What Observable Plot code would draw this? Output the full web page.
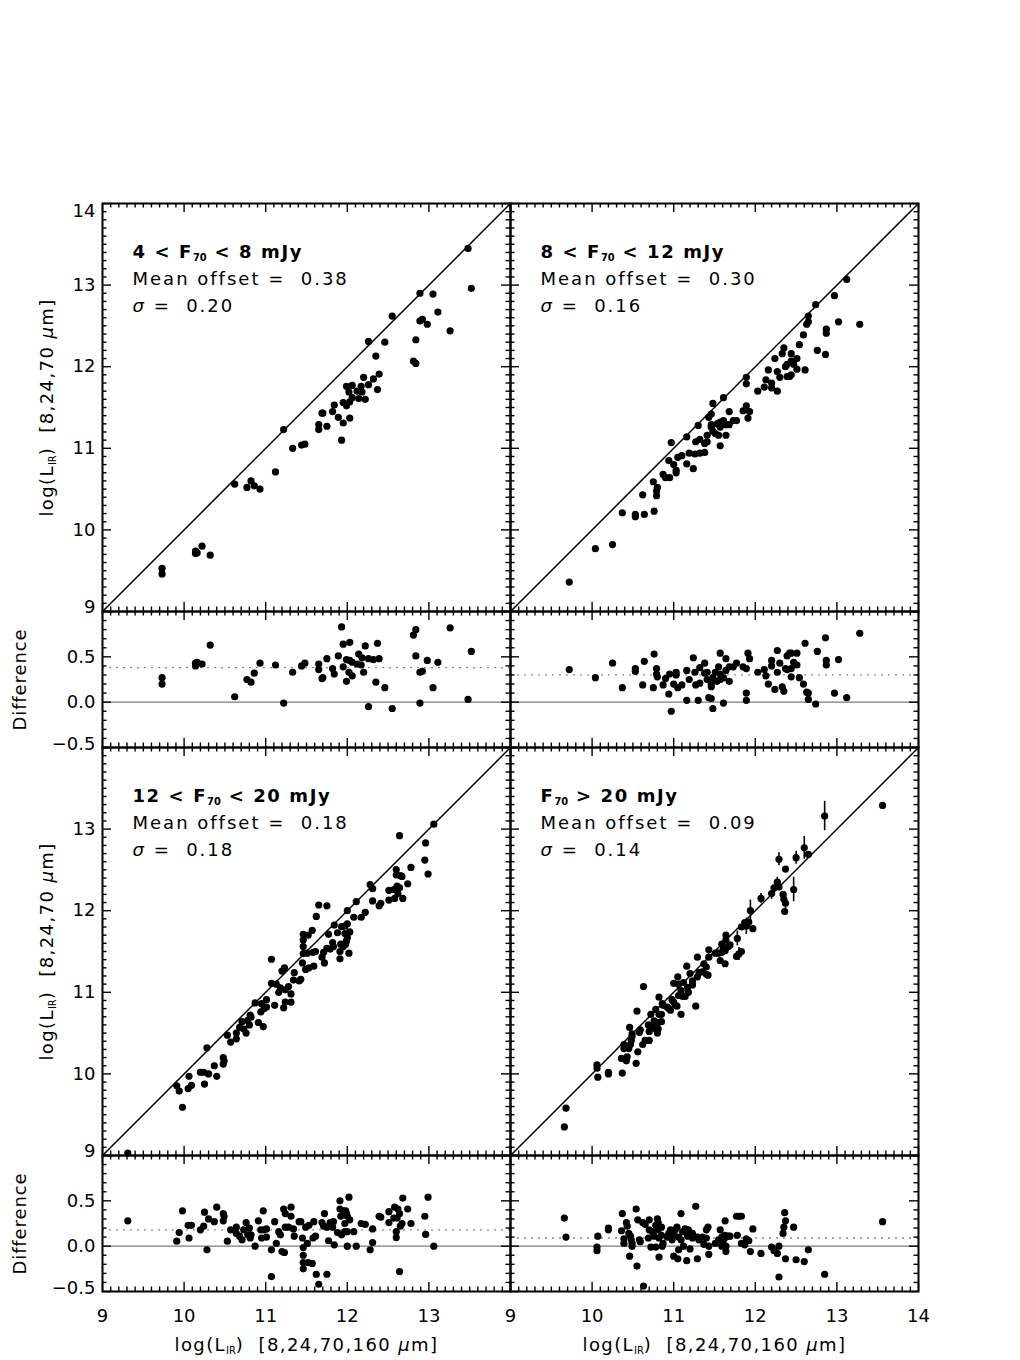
<!DOCTYPE html>
<html><head><meta charset="utf-8">
<script src="https://cdn.jsdelivr.net/npm/d3@7"></script>
<script src="https://cdn.jsdelivr.net/npm/@observablehq/plot@0.6"></script>
<style>
body{margin:0;background:#fff}
#chart{position:relative;width:1020px;height:1360px;background:#fff;overflow:hidden}
#chart > div{position:absolute}
#chart svg text{white-space:pre}
</style></head><body><div id="chart"></div>
<script>
// ---------------- data ----------------
const titles = ["4 < F_{70} < 8 mJy", "8 < F_{70} < 12 mJy", "12 < F_{70} < 20 mJy", "F_{70} > 20 mJy"];
const meanOffsets = [0.38, 0.30, 0.18, 0.09];
const sigmas = [0.20, 0.16, 0.18, 0.14];

// log(L_IR)[8,24,70,160] and difference (160-based minus 70-based)
const xA = [9.73,9.73,10.14,10.14,10.16,10.22,10.32,10.62,10.77,10.82,10.86,10.93,11.12,11.22,11.33,11.44,11.48,11.65,11.65,11.69,11.70,11.75,11.82,11.84,11.89,11.93,11.95,11.95,11.99,11.99,12.02,12.03,12.03,12.06,12.06,12.12,12.14,12.17,12.18,12.20,12.22,12.26,12.26,12.32,12.35,12.37,12.39,12.46,12.55,12.81,12.84,12.84,12.89,12.89,12.92,12.98,13.05,13.11,13.26,13.48,13.52];
const dA = [0.27,0.20,0.43,0.40,0.44,0.42,0.63,0.06,0.25,0.22,0.32,0.43,0.41,-0.01,0.33,0.40,0.43,0.42,0.36,0.26,0.27,0.48,0.37,0.31,0.51,0.83,0.64,0.39,0.47,0.23,0.33,0.66,0.46,0.29,0.44,0.42,0.53,0.41,0.49,0.33,0.62,0.48,-0.05,0.47,0.22,0.65,0.48,0.16,-0.07,0.74,0.80,0.51,0.33,-0.01,0.34,0.46,0.16,0.44,0.82,0.03,0.56];

const xB = [9.72,10.04,10.25,10.37,10.53,10.53,10.62,10.64,10.75,10.76,10.79,10.79,10.80,10.87,10.90,10.94,10.95,10.97,11.00,11.03,11.03,11.05,11.10,11.16,11.16,11.19,11.24,11.26,11.27,11.32,11.32,11.30,11.38,11.38,11.41,11.41,11.43,11.46,11.46,11.46,11.48,11.48,11.51,11.53,11.55,11.57,11.57,11.57,11.61,11.61,11.64,11.64,11.68,11.68,11.73,11.77,11.85,11.89,11.89,11.89,11.91,11.93,12.03,12.11,12.13,12.16,12.20,12.20,12.24,12.27,12.27,12.30,12.33,12.35,12.37,12.39,12.39,12.42,12.44,12.44,12.44,12.47,12.51,12.51,12.54,12.59,12.61,12.63,12.65,12.65,12.74,12.76,12.86,12.87,12.87,12.97,13.02,13.12,13.28];
const dB = [0.36,0.27,0.43,0.16,0.37,0.34,0.19,0.45,0.16,0.53,0.37,0.31,0.28,0.19,0.26,0.09,0.31,-0.10,0.20,0.33,0.30,0.16,0.19,0.35,0.02,0.25,0.49,0.33,0.19,0.21,0.38,0.02,0.43,0.32,0.25,0.33,0.05,0.04,0.20,0.17,-0.07,0.27,0.33,0.23,0.39,0.54,0.31,0.25,-0.01,0.27,0.48,0.35,0.23,0.39,0.39,0.43,0.39,0.10,0.02,0.37,0.54,0.48,0.33,0.36,0.29,0.20,0.46,0.40,0.14,0.57,0.33,0.43,0.17,0.12,0.37,0.51,0.36,0.54,0.28,0.37,0.54,0.44,0.41,0.54,0.27,0.20,0.65,0.11,0.10,0.03,-0.02,0.56,0.71,0.46,0.41,0.10,0.47,0.05,0.76];

const xC = [9.31,9.91,9.94,9.98,10.06,10.05,10.09,10.20,10.24,10.25,10.28,10.30,10.37,10.40,10.48,10.48,10.49,10.53,10.57,10.64,10.64,10.68,10.71,10.73,10.76,10.78,10.80,10.81,10.82,10.87,10.91,10.94,10.95,10.97,10.98,11.01,11.01,11.07,11.07,11.11,11.13,11.16,11.18,11.20,11.23,11.22,11.24,11.24,11.28,11.31,11.31,11.34,11.35,11.41,11.43,11.45,11.46,11.46,11.46,11.46,11.49,11.51,11.52,11.53,
  11.57,11.59,11.61,11.58,11.62,11.75,11.65,11.69,11.72,11.71,11.75,11.79,11.82,11.83,11.77,11.84,11.91,11.91,11.92,11.95,11.98,11.99,12.00,12.03,12.02,11.97,11.88,11.93,11.97,12.00,12.08,12.00,12.11,12.17,12.22,12.31,12.31,12.28,12.39,12.41,12.51,12.51,12.58,12.57,12.61,12.62,12.64,12.67,12.65,12.60,12.60,12.68,12.74,12.78,12.64,12.95,12.96,12.99,13.06];
const dC = [0.28,0.055,0.15,0.39,0.09,0.23,0.23,0.18,0.22,0.375,-0.04,0.30,0.27,0.43,0.36,0.28,0.33,0.055,0.18,0.21,0.14,0.11,0.07,0.18,0.26,0.125,0.20,0.09,0.125,0.0,0.28,0.18,0.09,0.39,0.18,0.19,0.10,-0.04,-0.335,0.27,0.03,0.16,0.125,-0.06,-0.07,0.41,0.36,0.21,0.21,0.43,0.33,0.19,0.11,0.27,0.27,0.09,-0.015,-0.10,-0.18,-0.25,0.21,0.03,-0.18,0.23,
  -0.19,0.27,0.11,0.09,-0.31,-0.31,-0.42,0.26,0.36,0.22,0.21,0.26,0.21,0.27,0.06,0.015,0.50,0.41,0.33,0.39,0.39,0.36,0.33,0.29,0.54,0.25,0.15,0.125,0.16,0.16,0.16,0.0,0.0,0.25,0.24,0.19,0.04,-0.04,0.33,0.32,0.38,0.26,0.43,0.31,0.31,0.41,0.36,0.25,0.22,0.16,0.095,0.53,0.41,0.25,-0.28,0.33,0.13,0.54,0.0];

const xD = [9.66,9.68,10.07,10.06,10.06,10.20,10.20,10.36,10.37,10.39,10.39,10.42,10.43,10.46,10.45,10.47,10.48,10.49,10.49,10.54,10.55,10.56,10.58,10.59,10.62,10.63,10.65,10.70,10.70,10.69,10.72,10.74,10.76,10.78,10.78,10.80,10.81,10.81,10.82,10.82,10.85,10.85,10.86,10.87,10.92,10.94,10.96,10.98,11.00,11.00,11.02,11.04,11.05,11.06,11.06,11.09,11.09,11.11,11.12,11.14,11.16,11.17,11.18,11.20,11.23,11.23,11.27,11.29,11.29,11.31,11.35,11.37,11.40,11.40,11.43,11.43,11.42,
  11.51,11.55,11.57,11.59,11.59,11.61,11.63,11.63,11.64,11.64,11.64,11.67,11.69,11.78,11.77,11.80,11.83,11.83,11.87,11.89,11.92,11.94,11.97,12.07,12.20,12.23,12.27,12.29,12.29,12.36,12.37,12.35,12.34,12.37,12.47,12.50,12.60,12.65,12.85,13.56];
const dD = [0.31,0.10,0.11,-0.01,-0.05,0.20,0.18,0.17,0.36,0.08,0.03,0.26,0.22,-0.11,0.14,0.11,0.07,0.03,0.0,0.41,-0.22,0.29,0.07,0.05,0.26,-0.44,0.24,0.29,0.18,0.09,-0.01,0.16,0.11,-0.01,0.23,0.30,0.26,0.18,-0.12,0.09,0.12,0.21,0.0,0.03,0.10,0.14,0.18,0.07,0.12,-0.11,0.18,0.21,-0.14,-0.04,0.10,0.36,0.07,0.16,0.0,0.19,-0.16,0.11,0.18,-0.03,0.09,0.14,0.44,-0.14,0.10,0.07,0.10,0.02,0.18,0.09,-0.09,0.0,0.21,
  0.03,0.07,0.18,0.10,0.0,0.07,0.12,0.28,0.0,-0.06,0.10,0.11,0.11,0.12,0.33,0.33,0.33,0.03,0.015,0.08,0.06,-0.06,0.19,-0.08,-0.01,-0.05,-0.08,0.0,-0.34,0.37,0.28,0.21,0.14,-0.14,0.21,-0.15,-0.17,-0.04,-0.31,0.27];

// error bars (F70 > 20 mJy panel): x, y [8,24,70] and half-length
const errX = [12.85,12.60,12.50,12.29,12.47,12.27,12.37,11.94,12.07,12.20,11.78,11.80,11.89];
const errY = [13.16,12.77,12.65,12.63,12.26,12.35,12.09,12.00,12.15,12.21,11.66,11.47,11.81];
const errE = [0.18,0.14,0.08,0.08,0.15,0.06,0.12,0.13,0.06,0.07,0.09,0.08,0.10];

// axes
const lumDomain = [9, 14];
const oneToOne = [9, 14];
const diffDomain = [-0.5, 1.0];
const lumMajor = [9, 10, 11, 12, 13, 14];
const diffMajor = [-0.5, 0, 0.5, 1.0];
const xLabelsLeft = [9, 10, 11, 12, 13];
const xLabelsRight = [9, 10, 11, 12, 13, 14];
const mainLabelsTop = [9, 10, 11, 12, 13, 14];
const mainLabelsBottom = [9, 10, 11, 12, 13];
const diffLabels = [-0.5, 0, 0.5];
const yTitleMain = "log(L_{IR})  [8,24,70 ~{μ}m]";
const yTitleDiff = "Difference";
const xTitle = "log(L_{IR})  [8,24,70,160 ~{μ}m]";

const lumMinor = d3.range(90, 141).filter(v => v % 10 !== 0).map(v => v / 10);
const diffMinor = d3.range(-5, 11).filter(v => v % 5 !== 0).map(v => v / 10);

// ---------------- layout ----------------
const FONT = "DejaVu Sans";
const colX = [102, 510], colW = 408;
const M = {top: 20, right: 20, bottom: 70, left: 110};
const chart = document.getElementById("chart");
const R = 3.6;

const fmtDiff = d => d === 0 ? "0.0" : (d < 0 ? "\u2212" : "") + Math.abs(d).toFixed(1);

function ticks(w, h, yMajor, yMinor) {
  const s = {stroke: "black", strokeWidth: 1.4};
  return [
    Plot.ruleX(lumMajor, {x: d => d, insetTop: h - 9, ...s}),
    Plot.ruleX(lumMajor, {x: d => d, insetBottom: h - 9, ...s}),
    Plot.ruleX(lumMinor, {x: d => d, insetTop: h - 4.5, ...s}),
    Plot.ruleX(lumMinor, {x: d => d, insetBottom: h - 4.5, ...s}),
    Plot.ruleY(yMajor, {y: d => d, insetRight: w - 9, ...s}),
    Plot.ruleY(yMajor, {y: d => d, insetLeft: w - 9, ...s}),
    Plot.ruleY(yMinor, {y: d => d, insetRight: w - 4.5, ...s}),
    Plot.ruleY(yMinor, {y: d => d, insetLeft: w - 4.5, ...s})
  ];
}

function yLabelMarks(labels, fmt, topVal, topDy, botVal, botDy) {
  const base = {frameAnchor: "left", dx: -7, textAnchor: "end", lineAnchor: "middle", fontSize: 18, fill: "black"};
  const inner = labels.filter(v => v !== topVal && v !== botVal);
  const out = [Plot.text(inner, {y: d => d, text: fmt, ...base})];
  if (labels.includes(topVal)) out.push(Plot.text([topVal], {y: d => d, text: fmt, ...base, dy: topDy}));
  if (labels.includes(botVal)) out.push(Plot.text([botVal], {y: d => d, text: fmt, ...base, dy: botDy}));
  return out;
}

function place(svg, left, top, w, h) {
  const div = document.createElement("div");
  div.style.left = (left - M.left) + "px";
  div.style.top = (top - M.top) + "px";
  div.style.width = (w + M.left + M.right) + "px";
  div.appendChild(svg);
  chart.appendChild(div);
  rich(svg);
}

function rich(svg) {
  d3.select(svg).selectAll("text").each(function () {
    const el = this;
    const t = el.textContent;
    if (/^(Mean|~\{σ\})/.test(t)) el.setAttribute("letter-spacing", "2");
    else if (/mJy/.test(t)) el.setAttribute("letter-spacing", "1.6");
    else if (/^log/.test(t)) el.setAttribute("letter-spacing", "1.4");
    else if (/[A-Za-z]/.test(t)) el.setAttribute("letter-spacing", "0.9");
    if (!/[_~]\{/.test(t)) return;
    const parts = [];
    const re = /([_~])\{([^}]*)\}/g;
    let last = 0, m;
    while ((m = re.exec(t))) {
      if (m.index > last) parts.push({s: t.slice(last, m.index)});
      parts.push({s: m[2], k: m[1]});
      last = re.lastIndex;
    }
    if (last < t.length) parts.push({s: t.slice(last)});
    el.textContent = "";
    let shifted = 0;
    for (const p of parts) {
      const ts = d3.select(el).append("tspan").text(p.s);
      if (p.k === "_") {
        ts.attr("font-size", "55%").attr("dy", 3 - shifted).attr("letter-spacing", "0");
        shifted = 3;
      } else {
        if (shifted) { ts.attr("dy", -shifted); shifted = 0; }
        if (p.k === "~") ts.attr("font-style", "italic");
      }
    }
  });
}

function mainPanel(i, col, top) {
  const w = colW, h = 408;
  const xs = [xA, xB, xC, xD][i], ds = [dA, dB, dC, dD][i];
  const pts = xs.map((x, j) => ({x, y: x - ds[j]}));
  const marks = [
    Plot.frame({stroke: "black", strokeWidth: 2}),
    ...ticks(w, h, lumMajor, lumMinor),
    Plot.line(oneToOne.map(v => ({x: v, y: v})), {x: "x", y: "y", stroke: "black", strokeWidth: 1.5}),
    Plot.dot(pts, {x: "x", y: "y", r: R, fill: "black"}),
    Plot.text([titles[i]], {frameAnchor: "top-left", dx: 30, dy: 49, lineAnchor: "middle", textAnchor: "start", fontSize: 18, fontWeight: "bold", fill: "black"}),
    Plot.text(["Mean offset =  " + meanOffsets[i].toFixed(2)], {frameAnchor: "top-left", dx: 30, dy: 76, lineAnchor: "middle", textAnchor: "start", fontSize: 18, fill: "black"}),
    Plot.text(["~{σ} =  " + sigmas[i].toFixed(2)], {frameAnchor: "top-left", dx: 30, dy: 103, lineAnchor: "middle", textAnchor: "start", fontSize: 18, fill: "black"})
  ];
  if (i === 3) {
    const eb = errX.map((x, j) => ({x, y: errY[j], e: errE[j]}));
    marks.push(Plot.ruleX(eb, {x: "x", y1: d => d.y - d.e, y2: d => d.y + d.e, stroke: "black", strokeWidth: 1.6}));
  }
  if (col === 0) {
    const labs = top === 203 ? mainLabelsTop : mainLabelsBottom;
    marks.push(...yLabelMarks(labs, d => String(d), 14, 8, 9, -4));
    marks.push(Plot.text([yTitleMain], {frameAnchor: "left", dx: -55, rotate: -90, textAnchor: "middle", lineAnchor: "middle", fontSize: 18, fill: "black"}));
  }
  const svg = Plot.plot({
    width: w + M.left + M.right, height: h + M.top + M.bottom,
    marginLeft: M.left, marginRight: M.right, marginTop: M.top, marginBottom: M.bottom,
    x: {domain: lumDomain, axis: null}, y: {domain: lumDomain, axis: null},
    style: {background: "transparent", overflow: "visible", fontFamily: FONT, fontSize: "18px"},
    marks
  });
  place(svg, colX[col], top, w, h);
}

function diffPanel(i, col, top, bottomRow) {
  const w = colW, h = 136;
  const xs = [xA, xB, xC, xD][i], ds = [dA, dB, dC, dD][i];
  const pts = xs.map((x, j) => ({x, d: ds[j]}));
  const marks = [
    Plot.ruleY([0], {y: d => d, stroke: "#7a7a7a", strokeWidth: 1.3}),
    Plot.ruleY([meanOffsets[i]], {y: d => d, stroke: "#8a8a8a", strokeWidth: 1.3, strokeDasharray: "2,5"}),
    Plot.frame({stroke: "black", strokeWidth: 2}),
    ...ticks(w, h, diffMajor, diffMinor),
    Plot.dot(pts, {x: "x", y: "d", r: R, fill: "black"})
  ];
  if (col === 0) {
    marks.push(...yLabelMarks(diffLabels, fmtDiff, 1.0, 0, -0.5, -3));
    marks.push(Plot.text([yTitleDiff], {frameAnchor: "left", dx: -82, rotate: -90, textAnchor: "middle", lineAnchor: "middle", fontSize: 18, fill: "black"}));
  }
  if (bottomRow) {
    const labs = col === 0 ? xLabelsLeft : xLabelsRight;
    marks.push(Plot.text(labs, {x: d => d, frameAnchor: "bottom", dy: 25, lineAnchor: "middle", textAnchor: "middle", fontSize: 18, fill: "black", text: d => String(d)}));
    marks.push(Plot.text([xTitle], {frameAnchor: "bottom", dy: 54, lineAnchor: "middle", textAnchor: "middle", fontSize: 18, fill: "black"}));
  }
  const svg = Plot.plot({
    width: w + M.left + M.right, height: h + M.top + M.bottom,
    marginLeft: M.left, marginRight: M.right, marginTop: M.top, marginBottom: M.bottom,
    x: {domain: lumDomain, axis: null}, y: {domain: diffDomain, axis: null},
    style: {background: "transparent", overflow: "visible", fontFamily: FONT, fontSize: "18px"},
    marks
  });
  place(svg, colX[col], top, w, h);
}

mainPanel(0, 0, 203);
mainPanel(1, 1, 203);
diffPanel(0, 0, 611, false);
diffPanel(1, 1, 611, false);
mainPanel(2, 0, 747);
mainPanel(3, 1, 747);
diffPanel(2, 0, 1155, true);
diffPanel(3, 1, 1155, true);
</script></body></html>
